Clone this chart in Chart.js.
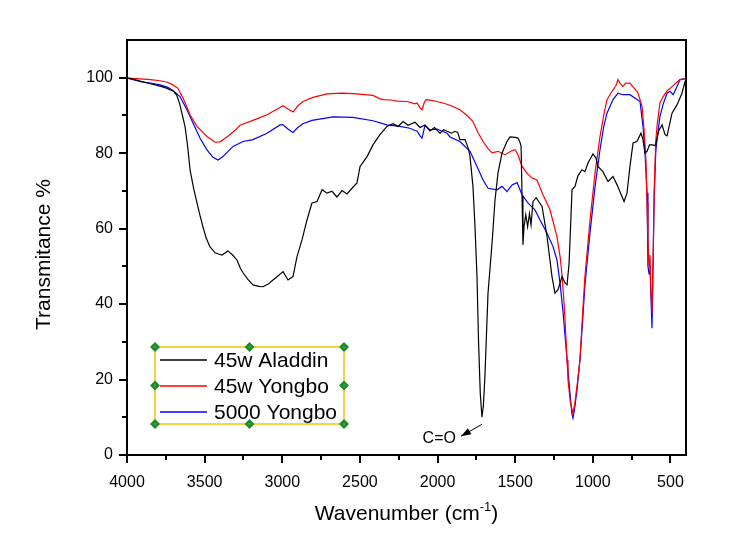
<!DOCTYPE html>
<html><head><meta charset="utf-8">
<script src="https://cdn.jsdelivr.net/npm/chart.js@4/dist/chart.umd.min.js"></script>
<style>html,body{margin:0;padding:0;background:#fff;}</style>
</head><body>
<canvas id="c" width="754" height="551" style="display:block;width:754px;height:551px"></canvas>
<script>
const seriesNames = ['45w Aladdin', '45w Yongbo', '5000 Yongbo'];
const seriesColors = ['#000000', '#ff0000', '#0000ff'];

const aladdinWn = [4000,3950,3900,3850,3800,3750,3700,3680,3660,3640,3626,3610,3594,3570,3549,3530,3511,3490,3466,3433,3405,3388,3350,3320,3292,3270,3253,3220,3189,3150,3124,3090,3060,3030,2995,2963,2931,2905,2873,2841,2809,2776,2744,2712,2680,2648,2615,2583,2551,2519,2499,2454,2416,2371,2326,2287,2255,2222,2190,2145,2113,2080,2049,2020,1984,1960,1939,1910,1888,1870,1856,1823,1800,1791,1772,1759,1746,1736,1725,1714,1705,1695,1675,1649,1630,1611,1585,1553,1533,1500,1482,1470,1462,1456,1450,1443,1432,1420,1408,1398,1385,1365,1345,1327,1295,1263,1244,1224,1198,1179,1166,1153,1141,1134,1115,1096,1070,1051,1031,999,980,967,935,902,870,844,825,799,780,761,741,716,690,677,664,651,635,619,600,593,575,554,535,522,490,458,426,406,400];
const aladdinT = [100.0,99.5,98.9,98.4,97.9,97.3,96.4,95.4,93.0,89.5,87.0,82.0,75.6,70.5,66.8,63.5,60.5,57.5,55.2,53.6,53.2,53.0,54.1,53.0,51.7,49.5,48.3,46.5,45.1,44.7,44.6,45.3,46.4,47.4,48.6,46.4,47.3,52.6,57.0,62.3,66.8,67.2,70.3,69.4,69.9,68.4,70.1,69.2,70.7,72.1,76.5,79.1,82.2,84.9,87.1,87.8,87.1,88.4,87.4,88.2,86.8,87.5,85.9,86.8,85.3,86.2,85.8,85.3,85.8,85.5,83.6,83.6,81.0,79.1,71.2,60.6,47.3,30.0,16.4,10.0,13.0,20.8,42.9,56.2,67.6,74.7,80.0,83.1,84.3,84.2,84.0,83.0,81.8,68.5,55.7,60.6,63.7,60.5,64.0,61.0,67.2,68.2,67.0,65.9,57.9,47.3,42.9,43.8,47.3,45.6,45.1,50.8,63.0,70.3,71.2,74.0,75.6,75.1,77.4,79.8,78.7,76.5,75.1,72.5,73.8,71.6,69.8,67.2,69.4,76.5,82.7,83.1,85.3,83.6,80.0,80.5,82.2,82.2,82.0,82.7,86.0,87.5,84.9,84.6,90.6,92.8,95.9,99.0,99.5];

const yongbo45Wn = [4000,3916,3850,3787,3740,3704,3672,3639,3594,3549,3485,3433,3401,3356,3300,3272,3189,3098,3015,2995,2963,2931,2900,2867,2802,2712,2620,2545,2416,2380,2351,2300,2261,2197,2145,2132,2113,2100,2085,2074,2040,2004,1950,1920,1856,1810,1772,1740,1707,1675,1649,1611,1566,1520,1501,1482,1456,1420,1392,1360,1321,1276,1231,1211,1198,1185,1179,1166,1160,1145,1128,1115,1100,1083,1065,1051,1018,986,954,930,909,870,850,838,825,806,790,761,740,716,709,683,670,658,651,645,638,632,625,619,612,605,595,587,568,547,522,483,460,438,406,400];
const yongbo45T = [99.9,99.7,99.5,99.2,98.8,98.1,97.2,94.6,90.2,87.1,84.4,82.9,83.0,84.3,86.2,87.4,88.7,90.2,92.1,92.6,91.7,90.9,92.5,93.7,94.8,95.7,95.9,95.8,95.3,94.6,94.2,94.1,93.8,93.7,93.1,93.3,92.0,91.5,93.5,94.2,94.0,93.7,93.1,92.7,91.5,90.0,88.4,85.5,83.1,81.2,80.1,80.5,79.6,80.7,80.9,79.6,76.5,74.5,73.4,72.9,69.0,65.0,57.9,52.6,47.5,40.0,35.8,25.2,19.9,14.0,11.0,14.0,19.0,25.2,38.0,47.3,62.3,74.7,84.4,90.0,94.2,96.8,98.0,99.5,98.5,97.7,98.5,98.6,97.5,96.4,95.9,92.4,86.2,78.2,66.8,57.0,50.0,53.0,43.0,37.7,52.0,70.0,83.0,87.0,93.3,95.0,96.5,97.9,98.8,99.5,99.7,99.7];

const yongbo5000Wn = [4000,3916,3850,3787,3740,3704,3659,3614,3575,3530,3485,3446,3414,3382,3317,3253,3189,3098,3015,2995,2960,2931,2900,2867,2809,2673,2545,2416,2326,2242,2178,2145,2132,2113,2100,2081,2049,2004,1939,1920,1856,1791,1746,1707,1675,1617,1585,1553,1520,1488,1456,1418,1373,1340,1295,1257,1231,1211,1192,1166,1147,1135,1128,1118,1100,1083,1065,1051,1018,986,954,930,909,870,838,806,761,716,696,677,664,651,645,638,632,625,619,612,605,595,587,568,547,522,503,483,460,438,406,400];
const yongbo5000T = [99.9,99.0,98.6,98.1,97.5,96.6,95.0,91.5,88.0,84.0,80.9,78.9,78.2,79.1,81.8,83.1,83.6,85.3,87.5,87.5,86.3,85.5,86.8,87.8,88.7,89.6,89.5,88.6,87.5,87.1,86.6,86.0,85.9,84.6,84.0,87.3,86.2,86.4,85.3,84.3,83.1,80.5,76.5,72.9,70.7,70.3,71.2,69.8,71.6,72.2,69.0,66.8,65.0,62.3,58.8,55.3,51.7,45.5,38.0,25.2,16.4,11.0,9.8,12.0,18.0,25.2,36.0,45.0,59.0,71.0,80.9,87.0,90.6,94.2,95.9,95.5,95.5,94.2,93.7,87.1,80.0,69.5,50.0,48.0,49.9,41.0,33.6,50.0,68.0,80.0,83.6,89.7,93.0,95.9,96.4,95.5,97.5,99.5,99.8,99.8];

const xTicks = [4000,3500,3000,2500,2000,1500,1000,500];
const xMinorTicks = [3750,3250,2750,2250,1750,1250,750];
const yTicks = [0,20,40,60,80,100];
const yMinorTicks = [10,30,50,70,90];
const xRange = [400, 4000];
const yRange = [0, 110];
const annotation = {label: 'C=O', wn: 1714, t: 10.0};

const FONT = "'Liberation Sans', Arial, sans-serif";

function pairs(xs, ys) { return xs.map((x, i) => ({x: x, y: ys[i]})); }
const seriesData = [pairs(aladdinWn, aladdinT), pairs(yongbo45Wn, yongbo45T), pairs(yongbo5000Wn, yongbo5000T)];

const decorPlugin = {
  id: 'decor',
  afterDraw(chart) {
    const ctx = chart.ctx, a = chart.chartArea, xs = chart.scales.x, ys = chart.scales.y;
    ctx.save();
    // frame
    ctx.strokeStyle = '#000'; ctx.lineWidth = 2;
    ctx.strokeRect(a.left, a.top, a.right - a.left, a.bottom - a.top);
    ctx.beginPath();
    xTicks.forEach(v => { const p = Math.round(xs.getPixelForValue(v)); ctx.moveTo(p, a.bottom); ctx.lineTo(p, a.bottom + 8); });
    xMinorTicks.forEach(v => { const p = Math.round(xs.getPixelForValue(v)); ctx.moveTo(p, a.bottom); ctx.lineTo(p, a.bottom + 5); });
    yTicks.forEach(v => { const p = Math.round(ys.getPixelForValue(v)); ctx.moveTo(a.left, p); ctx.lineTo(a.left - 8, p); });
    yMinorTicks.forEach(v => { const p = Math.round(ys.getPixelForValue(v)); ctx.moveTo(a.left, p); ctx.lineTo(a.left - 5, p); });
    ctx.stroke();

    // axis titles
    ctx.fillStyle = '#000';
    ctx.font = '21px ' + FONT;
    ctx.textBaseline = 'middle'; ctx.textAlign = 'center';
    ctx.save();
    ctx.translate(44, (a.top + a.bottom) / 2 + 7);
    ctx.rotate(-Math.PI / 2);
    ctx.fillText('Transmitance %', 0, 0);
    ctx.restore();

    const t1 = 'Wavenumber (cm', t2 = '-1', t3 = ')';
    ctx.font = '21px ' + FONT; const w1 = ctx.measureText(t1).width, w3 = ctx.measureText(t3).width;
    ctx.font = '13px ' + FONT; const w2 = ctx.measureText(t2).width;
    let x0 = (a.left + a.right) / 2 - (w1 + w2 + w3) / 2;
    const base = 520;
    ctx.textAlign = 'left'; ctx.textBaseline = 'alphabetic';
    ctx.font = '21px ' + FONT; ctx.fillText(t1, x0, base);
    ctx.font = '13px ' + FONT; ctx.fillText(t2, x0 + w1, base - 9);
    ctx.font = '21px ' + FONT; ctx.fillText(t3, x0 + w1 + w2, base);

    // annotation arrow
    const px = xs.getPixelForValue(annotation.wn), py = ys.getPixelForValue(annotation.t);
    const sx = px, sy = py + 7, tx = px - 21, ty = py + 19;
    ctx.strokeStyle = '#000'; ctx.lineWidth = 1;
    ctx.beginPath(); ctx.moveTo(sx, sy); ctx.lineTo(tx, ty); ctx.stroke();
    const ang = Math.atan2(ty - sy, tx - sx), L = 10, W = 3.5;
    ctx.beginPath();
    ctx.moveTo(tx, ty);
    ctx.lineTo(tx - L * Math.cos(ang) + W * Math.sin(ang), ty - L * Math.sin(ang) - W * Math.cos(ang));
    ctx.lineTo(tx - L * Math.cos(ang) - W * Math.sin(ang), ty - L * Math.sin(ang) + W * Math.cos(ang));
    ctx.closePath(); ctx.fill();
    ctx.font = '16px ' + FONT; ctx.textAlign = 'right'; ctx.textBaseline = 'middle';
    ctx.fillText(annotation.label, tx - 5, ty + 2);

    // legend box
    const L0 = 155, T0 = 347, R0 = 344, B0 = 424;
    ctx.strokeStyle = '#f5c400'; ctx.lineWidth = 1.5;
    ctx.strokeRect(L0, T0, R0 - L0, B0 - T0);
    const rows = [360, 386, 412];
    chart.data.datasets.forEach((ds, i) => {
      ctx.strokeStyle = ds.borderColor; ctx.lineWidth = 1.3;
      ctx.beginPath(); ctx.moveTo(160, rows[i]); ctx.lineTo(207, rows[i]); ctx.stroke();
      ctx.fillStyle = '#000'; ctx.font = '21px ' + FONT; ctx.textAlign = 'left'; ctx.textBaseline = 'middle';
      ctx.fillText(ds.label, 214, rows[i] + 1);
    });
    const mx = (L0 + R0) / 2, my = (T0 + B0) / 2;
    [[L0,T0],[mx,T0],[R0,T0],[L0,my],[R0,my],[L0,B0],[mx,B0],[R0,B0]].forEach(([hx, hy]) => {
      ctx.fillStyle = '#1e8c1e';
      ctx.beginPath(); ctx.moveTo(hx, hy - 5); ctx.lineTo(hx + 5, hy); ctx.lineTo(hx, hy + 5); ctx.lineTo(hx - 5, hy); ctx.closePath(); ctx.fill();
      ctx.fillStyle = '#2aa0a0';
      ctx.fillRect(hx - 1, hy - 1, 2, 2);
    });
    ctx.restore();
  }
};

new Chart(document.getElementById('c'), {
  type: 'line',
  data: {
    datasets: seriesNames.map((n, i) => ({
      label: n, data: seriesData[i], borderColor: seriesColors[i], backgroundColor: seriesColors[i],
      borderWidth: 1.2, pointRadius: 0, tension: 0, fill: false
    }))
  },
  options: {
    responsive: false, animation: false, devicePixelRatio: 1,
    layout: {padding: {left: 0, top: 40, right: 68, bottom: 0}},
    plugins: {legend: {display: false}, tooltip: {enabled: false}, title: {display: false}},
    scales: {
      x: {
        type: 'linear', reverse: true, min: xRange[0], max: xRange[1],
        afterBuildTicks: s => { s.ticks = xTicks.map(v => ({value: v})); },
        afterFit: s => { s.height = 96; },
        grid: {display: false, drawTicks: true, tickLength: 8},
        border: {display: false},
        ticks: {autoSkip: false, maxRotation: 0, padding: 10, color: '#000', font: {family: FONT, size: 16},
                callback: v => String(v)}
      },
      y: {
        type: 'linear', min: yRange[0], max: yRange[1],
        afterBuildTicks: s => { s.ticks = yTicks.map(v => ({value: v})); },
        afterFit: s => { s.width = 127; },
        grid: {display: false, drawTicks: true, tickLength: 8},
        border: {display: false},
        ticks: {padding: 6, color: '#000', font: {family: FONT, size: 16}, callback: v => String(v)}
      }
    }
  },
  plugins: [decorPlugin]
});
</script>
</body></html>
